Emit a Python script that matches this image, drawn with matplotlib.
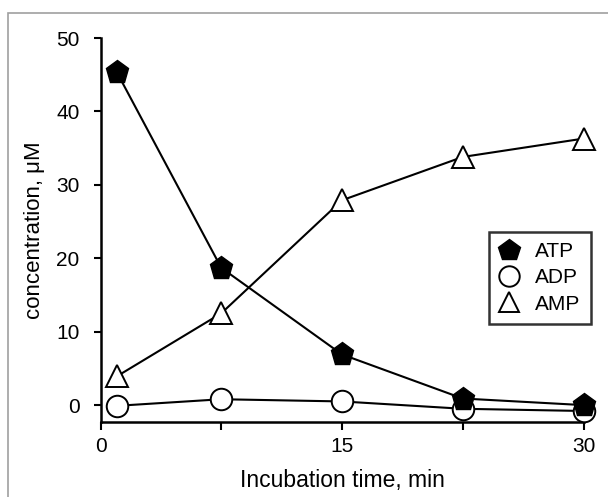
import matplotlib
matplotlib.use("Agg")
import matplotlib.pyplot as plt
from matplotlib.patches import Rectangle

plt.rcParams['font.family'] = ['Liberation Sans', 'DejaVu Sans']

# data
time = [1, 7.5, 15, 22.5, 30]
atp = [45.4, 18.7, 6.9, 0.9, 0.0]
adp = [-0.1, 0.8, 0.5, -0.5, -0.8]
amp = [3.9, 12.5, 27.9, 33.8, 36.3]

fig = plt.figure(figsize=(6.08, 4.97), dpi=100)
# grey frame round the panel
fig.patches.append(Rectangle((8.3 / 608, -0.1), 1.2, (497 - 13) / 497 + 0.1,
                             transform=fig.transFigure, fill=False,
                             edgecolor='#a0a0a0', linewidth=1.2))
ax = fig.add_axes([100.5 / 608, 75 / 497, 483 / 608, 384 / 497])

lw = 1.5
l_adp, = ax.plot(time, adp, color='black', lw=lw, marker='o', ms=15.5,
                 mfc='white', mec='black', mew=1.4, clip_on=False, zorder=3)
l_amp, = ax.plot(time, amp, color='black', lw=lw, marker='^', ms=15.5,
                 mfc='white', mec='black', mew=1.4, clip_on=False, zorder=4)
l_atp, = ax.plot(time, atp, color='black', lw=lw, marker='p', ms=17,
                 mfc='black', mec='black', mew=1.0, clip_on=False, zorder=5)

ax.set_xlim(0, 30)
ax.set_ylim(-2.3, 50)
ax.set_xticks([0, 7.5, 15, 22.5, 30])
ax.set_xticklabels(['0', '', '15', '', '30'])
ax.set_yticks([0, 10, 20, 30, 40, 50])

for s in ['top', 'right']:
    ax.spines[s].set_visible(False)
for s in ['left', 'bottom']:
    ax.spines[s].set_linewidth(1.8)
ax.tick_params(direction='out', width=1.5, labelsize=15)
ax.tick_params(axis='x', length=6, pad=4.5)
ax.tick_params(axis='y', length=5, pad=10)

ax.set_xlabel('Incubation time, min', fontsize=16.5, labelpad=10)
ax.set_ylabel('concentration, μM', fontsize=16, labelpad=8)

leg = ax.legend([l_atp, l_adp, l_amp], ['ATP', 'ADP', 'AMP'],
                loc='upper right',
                bbox_to_anchor=((590.5 - 100.5) / 483, (422 - 231.5) / 384),
                borderaxespad=0, fontsize=15, frameon=True, fancybox=False,
                handlelength=0.95, handletextpad=0.75, labelspacing=0.35,
                borderpad=0.5, markerscale=0.95)
for h in leg.legend_handles:
    h.set_linestyle('none')
leg.get_frame().set_edgecolor('black')
leg.get_frame().set_linewidth(1.8)

fig.savefig('out.png', dpi=100)
